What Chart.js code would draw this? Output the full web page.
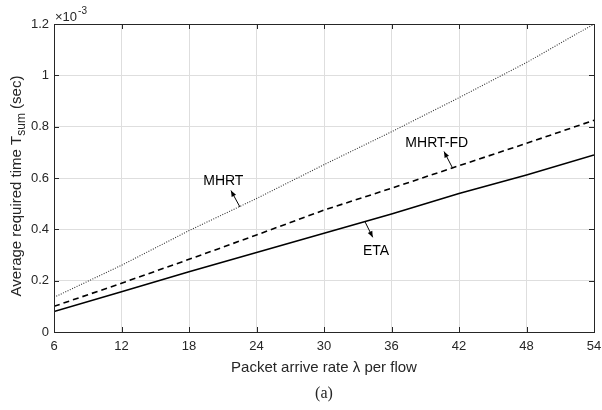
<!DOCTYPE html>
<html>
<head>
<meta charset="utf-8">
<script src="https://cdn.jsdelivr.net/npm/chart.js@4.4.1/dist/chart.umd.min.js"></script>
<style>
  html, body { margin: 0; padding: 0; background: #fff; }
  #wrap { width: 602px; height: 410px; }
</style>
</head>
<body>
<div id="wrap"><canvas id="chart" width="602" height="410"></canvas></div>
<script>
// packet arrive rate (lambda per flow)
var rates = [6, 12, 18, 24, 30, 36, 42, 48, 54];
// average required time, in units of 1e-3 sec
var etaTime    = [0.080, 0.157, 0.235, 0.310, 0.385, 0.460, 0.540, 0.612, 0.690];
var mhrtFdTime = [0.100, 0.190, 0.283, 0.378, 0.475, 0.560, 0.648, 0.735, 0.825];
var mhrtTime   = [0.135, 0.260, 0.395, 0.520, 0.652, 0.780, 0.913, 1.050, 1.200];

// curve labels: text position and arrow (tail on the curve, head at the text), data coords
var curveLabels = [
  {text: 'MHRT',    at: [21.05, 0.586], tail: [22.53, 0.487], head: [21.73, 0.551]},
  {text: 'MHRT-FD', at: [40.02, 0.735], tail: [41.44, 0.638], head: [40.67, 0.703]},
  {text: 'ETA',     at: [34.62, 0.316], tail: [33.64, 0.430], head: [34.33, 0.369]}
];

var FONT = '"Liberation Sans", Arial, Helvetica, sans-serif';
var INK = '#262626';

function pairs(ys) {
  return rates.map(function(x, i) { return {x: x, y: ys[i]}; });
}

function arrow(ctx, x1, y1, x2, y2) {
  var a = Math.atan2(y2 - y1, x2 - x1), L = 6, W = 2.5;
  ctx.beginPath();
  ctx.moveTo(x1, y1);
  ctx.lineTo(x2, y2);
  ctx.stroke();
  ctx.beginPath();
  ctx.moveTo(x2, y2);
  ctx.lineTo(x2 - L * Math.cos(a) + W * Math.sin(a), y2 - L * Math.sin(a) - W * Math.cos(a));
  ctx.lineTo(x2 - L * Math.cos(a) - W * Math.sin(a), y2 - L * Math.sin(a) + W * Math.cos(a));
  ctx.closePath();
  ctx.fill();
}

var decorations = {
  id: 'decorations',
  afterDraw: function(chart) {
    var ctx = chart.ctx, area = chart.chartArea;
    var xs = chart.scales.x, ys = chart.scales.y;
    ctx.save();

    // box and inward ticks
    ctx.strokeStyle = INK;
    ctx.lineWidth = 1;
    ctx.strokeRect(Math.round(area.left) + 0.5, Math.round(area.top) + 0.5,
                   Math.round(area.right - area.left), Math.round(area.bottom - area.top));
    ctx.beginPath();
    xs.ticks.forEach(function(t) {
      var px = Math.round(xs.getPixelForValue(t.value)) + 0.5;
      ctx.moveTo(px, area.bottom); ctx.lineTo(px, area.bottom - 5);
      ctx.moveTo(px, area.top); ctx.lineTo(px, area.top + 5);
    });
    ys.ticks.forEach(function(t) {
      var py = Math.round(ys.getPixelForValue(t.value)) + 0.5;
      ctx.moveTo(area.left, py); ctx.lineTo(area.left + 5, py);
      ctx.moveTo(area.right, py); ctx.lineTo(area.right - 5, py);
    });
    ctx.stroke();

    // curve labels with arrows
    ctx.fillStyle = '#000';
    ctx.strokeStyle = '#000';
    ctx.font = '14px ' + FONT;
    ctx.textAlign = 'center';
    ctx.textBaseline = 'middle';
    curveLabels.forEach(function(l) {
      ctx.fillText(l.text, xs.getPixelForValue(l.at[0]), ys.getPixelForValue(l.at[1]));
      arrow(ctx, xs.getPixelForValue(l.tail[0]), ys.getPixelForValue(l.tail[1]),
                 xs.getPixelForValue(l.head[0]), ys.getPixelForValue(l.head[1]));
    });

    // exponent
    ctx.fillStyle = INK;
    ctx.textAlign = 'left';
    ctx.textBaseline = 'alphabetic';
    ctx.font = '13px ' + FONT;
    ctx.fillText('\u00d710', area.left + 1, 21);
    var w = ctx.measureText('\u00d710').width;
    ctx.font = '10px ' + FONT;
    ctx.fillText('-3', area.left + 1 + w + 1, 14);

    // x title and caption
    ctx.textAlign = 'center';
    ctx.font = '15px ' + FONT;
    ctx.fillText('Packet arrive rate \u03bb per flow', (area.left + area.right) / 2, 372);
    ctx.font = '16px "Liberation Serif", "Times New Roman", serif';
    ctx.fillText('(a)', (area.left + area.right) / 2, 398);

    // y title with subscript
    ctx.translate(21, 186);
    ctx.rotate(-Math.PI / 2);
    ctx.font = '15px ' + FONT;
    var p1 = 'Average required time T', p3 = ' (sec)';
    var w1 = ctx.measureText(p1).width, w3 = ctx.measureText(p3).width;
    ctx.font = '12px ' + FONT;
    var w2 = ctx.measureText('sum').width;
    var x0 = -(w1 + w2 + w3) / 2;
    ctx.textAlign = 'left';
    ctx.font = '15px ' + FONT;
    ctx.fillText(p1, x0, 0);
    ctx.font = '12px ' + FONT;
    ctx.fillText('sum', x0 + w1, 4);
    ctx.font = '15px ' + FONT;
    ctx.fillText(p3, x0 + w1 + w2, 0);
    ctx.restore();
  }
};

new Chart(document.getElementById('chart'), {
  type: 'line',
  data: {
    datasets: [
      {label: 'ETA', data: pairs(etaTime), borderColor: '#000', borderWidth: 1.6},
      {label: 'MHRT-FD', data: pairs(mhrtFdTime), borderColor: '#000', borderWidth: 1.6, borderDash: [6, 4]},
      {label: 'MHRT', data: pairs(mhrtTime), borderColor: '#333', borderWidth: 1.1, borderDash: [1, 1.5]}
    ]
  },
  options: {
    responsive: false,
    animation: false,
    layout: {padding: {left: 0, top: 24, right: 8, bottom: 0}},
    elements: {point: {radius: 0}, line: {tension: 0, fill: false}},
    plugins: {legend: {display: false}, tooltip: {enabled: false}},
    scales: {
      x: {
        type: 'linear', min: 6, max: 54,
        grid: {color: '#dedede', drawTicks: false},
        border: {display: false},
        ticks: {stepSize: 6, padding: 7, color: INK, font: {family: FONT, size: 13}},
        afterFit: function(s) { s.height = 78; s.paddingLeft = 0; s.paddingRight = 0; }
      },
      y: {
        min: 0, max: 1.2,
        grid: {color: '#dedede', drawTicks: false},
        border: {display: false},
        ticks: {
          stepSize: 0.2, padding: 5, color: INK, font: {family: FONT, size: 13},
          callback: function(v) { return String(Number(v.toFixed(1))); }
        },
        afterFit: function(s) { s.width = 54; }
      }
    }
  },
  plugins: [decorations]
});
</script>
</body>
</html>
